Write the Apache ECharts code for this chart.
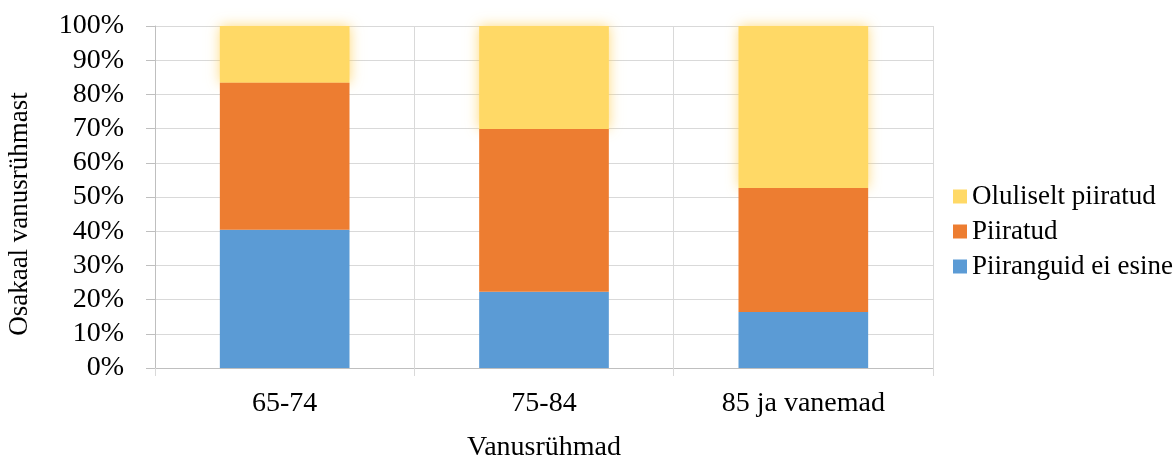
<!DOCTYPE html>
<html>
<head>
<meta charset="utf-8">
<script src="https://cdn.jsdelivr.net/npm/echarts@6/dist/echarts.min.js"></script>
<style>
html,body{margin:0;padding:0;background:#fff;}
#chart{width:1176px;height:461px;}
</style>
</head>
<body>
<div id="chart"></div>
<script>
// Age groups and the share (%) of each limitation level within the group
const categories = ['65-74', '75-84', '85 ja vanemad'];
const noLimits = [40.4, 22.3, 16.4];        // Piiranguid ei esine
const limited = [43.0, 47.6, 36.2];         // Piiratud
const severelyLimited = [16.6, 30.1, 47.4]; // Oluliselt piiratud
const seriesNames = ['Piiranguid ei esine', 'Piiratud', 'Oluliselt piiratud'];
const legendOrder = ['Oluliselt piiratud', 'Piiratud', 'Piiranguid ei esine'];

const font = '"Liberation Serif", "Times New Roman", serif';
const chart = echarts.init(document.getElementById('chart'));

chart.setOption({
  animation: false,
  textStyle: { fontFamily: font, color: '#000' },
  grid: { left: 155, right: 243, top: 26, bottom: 93, outerBoundsMode: 'none', containLabel: false },
  legend: {
    data: legendOrder,
    orient: 'vertical',
    left: 953,
    top: 183,
    padding: 0,
    itemWidth: 14,
    itemHeight: 14,
    itemGap: 8,
    icon: 'rect',
    textStyle: { fontFamily: font, fontSize: 27, color: '#000' }
  },
  xAxis: {
    type: 'category',
    data: categories,
    name: 'Vanusrühmad',
    nameLocation: 'middle',
    nameGap: 66,
    nameTextStyle: { fontFamily: font, fontSize: 28, color: '#000' },
    axisLine: { lineStyle: { color: '#bfbfbf', width: 1 } },
    axisTick: { show: true, length: 8, lineStyle: { color: '#d9d9d9' } },
    axisLabel: { fontFamily: font, fontSize: 28, color: '#000', margin: 22 },
    splitLine: { show: true, lineStyle: { color: '#d9d9d9', width: 1 } }
  },
  yAxis: {
    type: 'value',
    min: 0,
    max: 100,
    interval: 10,
    name: 'Osakaal vanusrühmast',
    nameLocation: 'middle',
    nameGap: 122,
    nameTextStyle: { fontFamily: font, fontSize: 27, color: '#000', padding: [0, 34, 0, 0] },
    axisLine: { show: true, lineStyle: { color: '#bfbfbf', width: 1 } },
    axisTick: { show: true, length: 9, lineStyle: { color: '#bfbfbf' } },
    axisLabel: { fontFamily: font, fontSize: 28, color: '#000', margin: 31, formatter: '{value}%' },
    splitLine: { show: true, lineStyle: { color: '#d9d9d9', width: 1 } }
  },
  series: [
    {
      name: seriesNames[0], type: 'bar', stack: 'total', data: noLimits,
      barWidth: '50%', itemStyle: { color: '#5B9BD5' }
    },
    {
      name: seriesNames[1], type: 'bar', stack: 'total', data: limited,
      barWidth: '50%', itemStyle: { color: '#ED7D31' }
    },
    {
      name: seriesNames[2], type: 'bar', stack: 'total', data: severelyLimited,
      barWidth: '50%', z: 1,
      itemStyle: { color: '#FFD966', shadowBlur: 12, shadowColor: 'rgba(255,205,80,0.75)' }
    }
  ]
});
</script>
</body>
</html>
